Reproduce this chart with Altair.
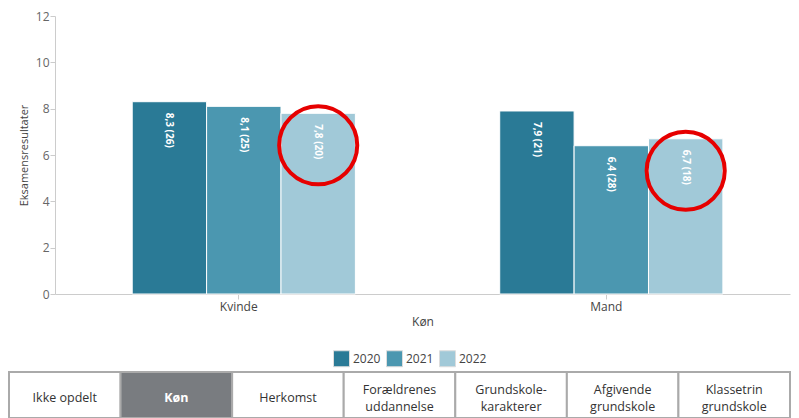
import altair as alt
import pandas as pd

# ---- data ----
groups = ["Kvinde", "Kvinde", "Kvinde", "Mand", "Mand", "Mand"]
years = ["2020", "2021", "2022", "2020", "2021", "2022"]
values = [8.3, 8.1, 7.8, 7.9, 6.4, 6.7]
counts = [26, 25, 20, 21, 28, 18]
year_domain = ["2020", "2021", "2022"]
year_colors = ["#2a7a96", "#4b97b0", "#a1c9d8"]
highlight_year = "2022"
y_ticks = [0, 2, 4, 6, 8, 10, 12]
tabs = ["Ikke opdelt", "Køn", "Herkomst", "Forældrenes\nuddannelse",
        "Grundskole-\nkarakterer", "Afgivende\ngrundskole", "Klassetrin\ngrundskole"]
selected_tab = "Køn"

FONT = "Open Sans"
PLOT_W = 735

df = pd.DataFrame({"kon": groups, "year": years, "value": values, "count": counts})
df["label"] = [f"{v:.1f}".replace(".", ",") + f" ({c})" for v, c in zip(values, counts)]

base = alt.Chart(df).encode(
    x=alt.X("kon:N", sort=["Kvinde", "Mand"], title="Køn",
            scale=alt.Scale(paddingInner=0, paddingOuter=0),
            axis=alt.Axis(labelAngle=0, labelColor="#444", labelFontSize=12, labelFont=FONT,
                          titleColor="#444", titleFontSize=12, titleFont=FONT, titleFontWeight="normal",
                          domainColor="#cccccc", tickColor="#cccccc", tickSize=5, labelPadding=2,
                          titlePadding=4)),
    xOffset=alt.XOffset("year:N", sort=year_domain,
                        scale=alt.Scale(paddingInner=0, paddingOuter=0.97, align=0.535)),
    y=alt.Y("value:Q", title="Eksamensresultater",
            scale=alt.Scale(domain=[0, 12], nice=False),
            axis=alt.Axis(values=y_ticks, grid=False, labelColor="#666", labelFontSize=12,
                          labelFont=FONT, titleColor="#444", titleFontSize=11, titleFont=FONT,
                          titleFontWeight="normal", domainColor="#cccccc", tickColor="#cccccc",
                          tickSize=5, labelPadding=1, titlePadding=6)),
)

bars = base.mark_bar(stroke="white", strokeWidth=1).encode(
    color=alt.Color("year:N", scale=alt.Scale(domain=year_domain, range=year_colors),
                    legend=alt.Legend(title=None, orient="none", legendX=278, legendY=334,
                                      direction="horizontal", symbolType="square",
                                      symbolSize=256, labelFontSize=12, labelFont=FONT,
                                      labelColor="#444", columnPadding=3, labelOffset=3,
                                      symbolStrokeColor="#dddddd", symbolStrokeWidth=1))
)

labels = base.mark_text(angle=90, align="left", baseline="middle", dx=11, color="white",
                        fontWeight="bold", fontSize=10, font=FONT).encode(text="label:N")

circles = base.transform_filter(alt.datum.year == highlight_year).mark_point(
    shape="circle", size=6100, filled=False, color="#e60000", strokeWidth=4, opacity=1
).encode(yOffset=alt.value(32))

main = alt.layer(bars, labels, circles).properties(width=PLOT_W, height=278)

tabs_df = pd.DataFrame({"tab": tabs, "selected": [t == selected_tab for t in tabs]})
tab_x = alt.X("tab:N", sort=tabs, axis=None,
              scale=alt.Scale(range=[-46, PLOT_W], paddingInner=0, paddingOuter=0))

tab_rect = alt.Chart(tabs_df).mark_rect(stroke="#aaaaaa", strokeWidth=2).encode(
    x=tab_x,
    color=alt.condition("datum.selected", alt.value("#797c80"), alt.value("white")),
)
one_line = "!datum.selected && indexof(datum.tab, '\\n') < 0"
two_lines = "!datum.selected && indexof(datum.tab, '\\n') >= 0"
tab_text1 = alt.Chart(tabs_df).transform_filter(one_line).mark_text(
    lineBreak="\n", lineHeight=17, fontSize=12.5, font=FONT, baseline="middle",
    color="#333333").encode(x=tab_x, y=alt.value(26), text="tab:N")
tab_text2 = alt.Chart(tabs_df).transform_filter(two_lines).mark_text(
    lineBreak="\n", lineHeight=17, fontSize=12.5, font=FONT, baseline="middle",
    color="#333333").encode(x=tab_x, y=alt.value(18), text="tab:N")
tab_text_sel = alt.Chart(tabs_df).transform_filter("datum.selected").mark_text(
    lineBreak="\n", lineHeight=17, fontSize=12.5, font=FONT, baseline="middle",
    color="white", fontWeight="bold").encode(x=tab_x, y=alt.value(26), text="tab:N")
tab_chart = alt.layer(tab_rect, tab_text1, tab_text2, tab_text_sel).properties(
    width=PLOT_W, height=46)

chart = alt.vconcat(main, tab_chart, spacing=44).properties(
    padding={"left": 0, "right": 0, "top": 2, "bottom": 0}
).configure_view(strokeWidth=0)

chart.save("out.html", embed_options={"renderer": "svg", "actions": False})
